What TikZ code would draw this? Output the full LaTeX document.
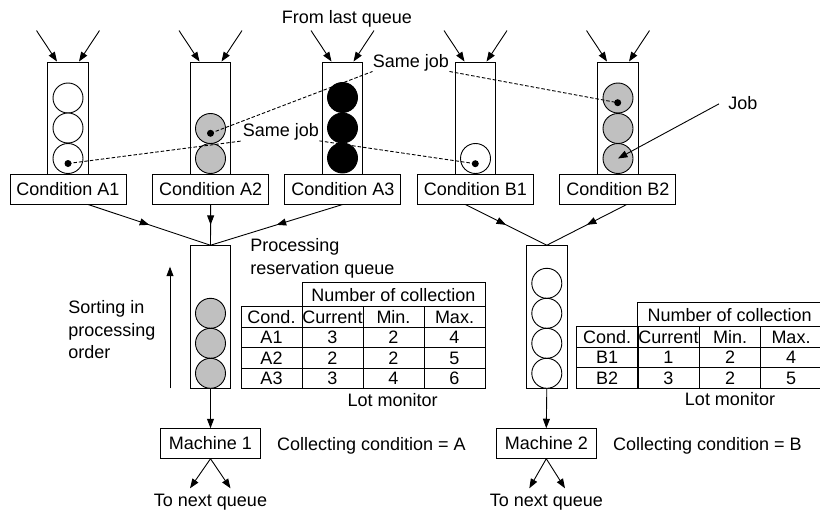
\documentclass[tikz,border=0pt]{standalone}
\usepackage{fontspec}
\setmainfont{Liberation Sans}
\usetikzlibrary{arrows.meta,calc,decorations.markings}
\definecolor{jobgray}{RGB}{192,192,192}
\begin{document}
\begin{tikzpicture}[x=1pt,y=-1pt, line width=0.9pt,
  every node/.style={font=\fontsize{18}{22.5}\selectfont},
  queuebox/.style={draw, rectangle, minimum width=40.6pt, inner sep=0pt},
  condbox/.style={draw, rectangle, minimum width=116pt, minimum height=30pt, inner sep=0pt},
  machbox/.style={draw, rectangle, minimum width=100pt, minimum height=29.6pt, inner sep=0pt},
  jobw/.style={draw, circle, minimum size=30pt, inner sep=0pt, fill=white},
  jobg/.style={jobw, fill=jobgray},
  jobb/.style={jobw, fill=black},
  jobdot/.style={circle, fill=black, minimum size=7pt, inner sep=0pt},
  cell/.style={draw, rectangle, minimum width=61pt, minimum height=20.5pt, inner sep=0pt},
  lbl/.style={inner sep=0pt},
  arr/.style={-{Triangle[length=9.5pt,width=7pt]}},
  midarr/.style={postaction={decorate}, decoration={markings, mark=at position 0.5 with {\arrow{Triangle[length=9.5pt,width=7pt]}}}},
  samejob/.style={dash pattern=on 3.5pt off 2pt, line width=0.9pt},
]
\useasboundingbox (0,0) rectangle (820,511);

% ---------- input queues ----------
\node[queuebox, minimum height=112pt] (qA1) at (68,118) {};
\node[queuebox, minimum height=112pt] (qA2) at (210.5,118) {};
\node[queuebox, minimum height=112pt] (qA3) at (342.5,118) {};
\node[queuebox, minimum height=112pt] (qB1) at (475.5,118) {};
\node[queuebox, minimum height=112pt] (qB2) at (618,118) {};

\foreach \q in {qA1,qA2,qA3,qB1,qB2}{
  \draw[arr] ($(\q.north)+(-31.5,-31)$) -- ($(\q.north)+(-11,0)$);
  \draw[arr] ($(\q.north)+(31.5,-31)$) -- ($(\q.north)+(11,0)$);
}

% jobs
\node[jobw] (a1c1) at (68,98) {};
\node[jobw] (a1c2) at (68,128) {};
\node[jobw] (a1c3) at (68,158.5) {};
\node[jobg] (a2c1) at (210.5,128.5) {};
\node[jobg] (a2c2) at (210.5,158.5) {};
\node[jobb] (a3c1) at (342.5,97.5) {};
\node[jobb] (a3c2) at (342.5,128) {};
\node[jobb] (a3c3) at (342.5,158) {};
\node[jobw] (b1c1) at (475.5,158.5) {};
\node[jobg] (b2c1) at (618,98) {};
\node[jobg] (b2c2) at (618,128.5) {};
\node[jobg] (b2c3) at (618,158.5) {};

% condition boxes
\node[condbox] (cA1) at (68,189) {Condition A1};
\node[condbox] (cA2) at (210.7,189) {Condition A2};
\node[condbox] (cA3) at (342.8,189) {Condition A3};
\node[condbox] (cB1) at (475.3,189) {Condition B1};
\node[condbox] (cB2) at (617.8,189) {Condition B2};

% labels at top
\node[lbl, anchor=base] (fromlbl) at (347,23.3) {From last queue};
\node[lbl, anchor=base] (sj1) at (411,67.3) {Same job};
\node[lbl, anchor=base] (sj2) at (281,136.7) {Same job};
\node[lbl, anchor=base west] (joblbl) at (728,109.3) {Job};

% same-job links
\coordinate (dA1) at (68,163.5);
\coordinate (dA2) at (210.5,133.3);
\coordinate (dB1) at (475.3,163.7);
\coordinate (dB2) at (617.7,102.7);
\draw[samejob] (dA2) -- (sj1.south west);
\draw[samejob] (sj1.south east) -- (dB2);
\draw[samejob] (dA1) -- (sj2.south west);
\draw[samejob] (sj2.south east) -- (dB1);
\foreach \d in {dA1,dA2,dB1,dB2}{ \node[jobdot] at (\d) {}; }

\draw[arr] ($(joblbl.west)+(-9,1)$) -- (b2c3.center);

% ---------- processing reservation queues ----------
\node[queuebox, minimum height=142.6pt] (q1) at (210.5,317) {};
\node[queuebox, minimum height=142.6pt] (q2) at (546.8,317) {};

\node[jobg] (p1c1) at (210.5,313.3) {};
\node[jobg] (p1c2) at (210.5,343.3) {};
\node[jobg] (p1c3) at (210.5,373.3) {};
\node[jobw] (p2c1) at (546.8,283.3) {};
\node[jobw] (p2c2) at (546.8,313.3) {};
\node[jobw] (p2c3) at (546.8,343.3) {};
\node[jobw] (p2c4) at (546.8,373.3) {};

\draw[midarr] ($(cA1.south)+(20,0)$) -- (q1.north);
\draw[midarr] (cA2.south) -- (q1.north);
\draw[midarr] (cA3.south) -- (q1.north);
\draw[midarr] ($(cB1.south)+(-10,0)$) -- (q2.north);
\draw[midarr] ($(cB2.south)+(9,0)$) -- (q2.north);

\node[lbl, anchor=north west, align=left] (proclbl) at (250,238.5) {Processing\\reservation queue};
\node[lbl, anchor=north west, align=left] (sortlbl) at (68,300.5) {Sorting in\\processing\\order};
\coordinate (sortbot) at (170,388.3);
\coordinate (sorttop) at (170,266.7);
\draw[arr] (sortbot) -- (sorttop);

% ---------- lot monitor A ----------
\node[cell, minimum width=183pt, minimum height=24pt] (t1h) at (393.5,294.7) {Number of collection};
\node[cell] (t1r0c1) at (271.5,316.95) {Cond.};
\node[cell] (t1r0c2) at (332.5,316.95) {Current};
\node[cell] (t1r0c3) at (393.5,316.95) {Min.};
\node[cell] (t1r0c4) at (454.5,316.95) {Max.};
\node[cell] (t1r1c1) at (271.5,337.45) {A1};
\node[cell] (t1r1c2) at (332.5,337.45) {3};
\node[cell] (t1r1c3) at (393.5,337.45) {2};
\node[cell] (t1r1c4) at (454.5,337.45) {4};
\node[cell] (t1r2c1) at (271.5,357.95) {A2};
\node[cell] (t1r2c2) at (332.5,357.95) {2};
\node[cell] (t1r2c3) at (393.5,357.95) {2};
\node[cell] (t1r2c4) at (454.5,357.95) {5};
\node[cell] (t1r3c1) at (271.5,378.45) {A3};
\node[cell] (t1r3c2) at (332.5,378.45) {3};
\node[cell] (t1r3c3) at (393.5,378.45) {4};
\node[cell] (t1r3c4) at (454.5,378.45) {6};
\node[lbl, anchor=base] (lot1) at (392.7,406.7) {Lot monitor};

% ---------- lot monitor B ----------
\node[cell, minimum width=184pt, minimum height=24pt] (t2h) at (729.7,314.7) {Number of collection};
\node[cell] (t2r0c1) at (607.2,336.95) {Cond.};
\node[cell] (t2r0c2) at (668.5,336.95) {Current};
\node[cell] (t2r0c3) at (730.1,336.95) {Min.};
\node[cell] (t2r0c4) at (791,336.95) {Max.};
\node[cell] (t2r1c1) at (607.2,357.45) {B1};
\node[cell] (t2r1c2) at (668.5,357.45) {1};
\node[cell] (t2r1c3) at (730.1,357.45) {2};
\node[cell] (t2r1c4) at (791,357.45) {4};
\node[cell] (t2r2c1) at (607.2,377.95) {B2};
\node[cell] (t2r2c2) at (668.5,377.95) {3};
\node[cell] (t2r2c3) at (730.1,377.95) {2};
\node[cell] (t2r2c4) at (791,377.95) {5};
\node[lbl, anchor=base] (lot2) at (730,405.7) {Lot monitor};

% ---------- machines ----------
\node[machbox] (m1) at (210.5,443.5) {Machine 1};
\node[machbox, minimum width=99.3pt] (m2) at (546.3,443.5) {Machine 2};
\draw[arr] (q1.south) -- (m1.north);
\draw[arr] (q2.south) -- (m2.north);
\node[lbl, anchor=base west] (cc1) at (276.7,450.7) {Collecting condition = A};
\node[lbl, anchor=base west] (cc2) at (612.7,450.7) {Collecting condition = B};

\coordinate (o1l) at (190,488.3);
\coordinate (o1r) at (230.5,488.3);
\coordinate (o2l) at (529.3,488.3);
\coordinate (o2r) at (565,488.3);
\draw[arr] (m1.south) -- (o1l);
\draw[arr] (m1.south) -- (o1r);
\draw[arr] (m2.south) -- (o2l);
\draw[arr] (m2.south) -- (o2r);
\node[lbl, anchor=base] (next1) at (210.5,506.8) {To next queue};
\node[lbl, anchor=base] (next2) at (546.3,506.8) {To next queue};
\end{tikzpicture}
\end{document}
